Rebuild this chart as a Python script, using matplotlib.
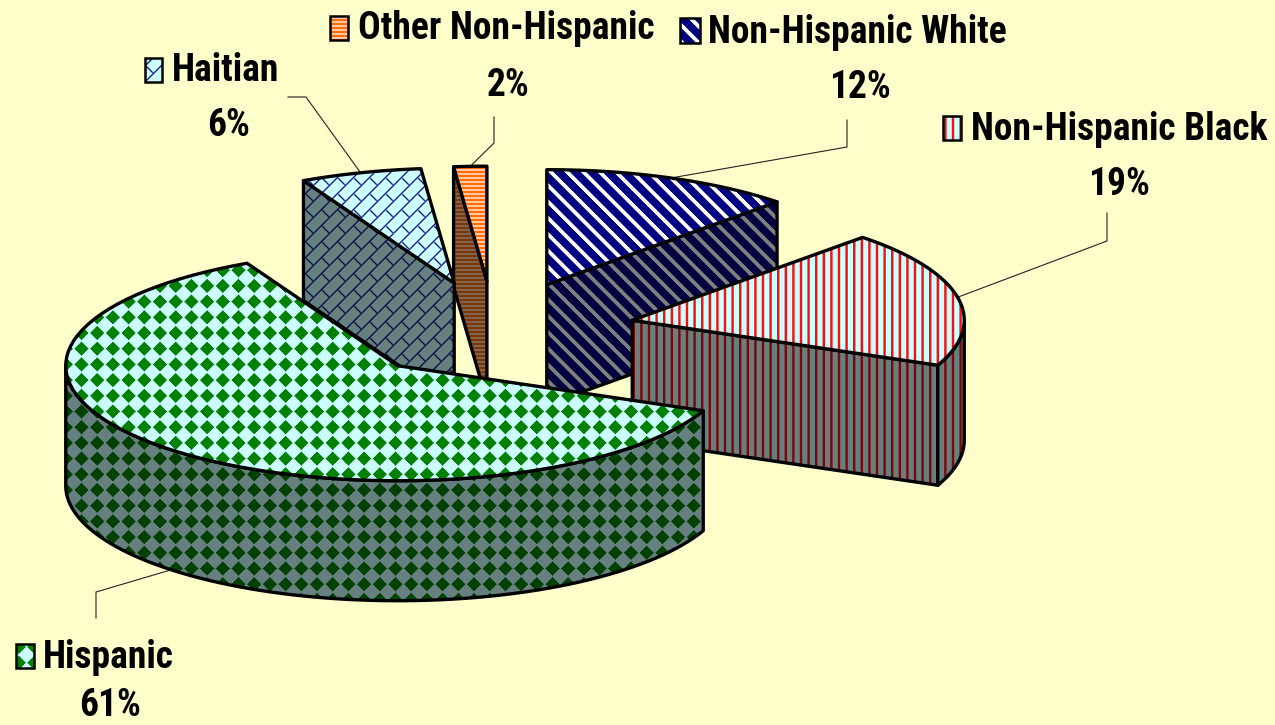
import numpy as np
import matplotlib
matplotlib.use("Agg")
import matplotlib.pyplot as plt
from matplotlib.patches import Polygon, Rectangle

# ---- data ----
categories = ["Non-Hispanic White", "Non-Hispanic Black", "Hispanic", "Haitian", "Other Non-Hispanic"]
shares = [12.2, 19.2, 61.1, 5.9, 1.6]   # slice sizes; labels show them rounded

# ---- layout / style ----
W, H = 1275, 725
BG = "#FFFFCC"
CX, CY, RX, RY, DEPTH = 494, 330, 332, 115, 120
EXPLODE = 0.425
FONT = ["Roboto Condensed", "Roboto", "Liberation Sans"]
FS = 27
label_pos = {  # name left x, name centre y, percent centre x, percent centre y, key box
    "Non-Hispanic White": (708, 32, 860, 87, (680, 18, 20, 25)),
    "Non-Hispanic Black": (971, 129, 1119, 184, (943, 116, 18, 24)),
    "Hispanic": (43, 657, 110, 705, (16, 644, 18, 24)),
    "Haitian": (172, 70, 229, 125, (145, 58, 17, 24)),
    "Other Non-Hispanic": (358, 28, 508, 85, (330, 16, 18, 24)),
}
elbows = {
    "Non-Hispanic White": [(847, 120), (847, 147)],
    "Non-Hispanic Black": [(1107, 213), (1107, 241)],
    "Hispanic": [(96, 618), (96, 592)],
    "Haitian": [(288, 97), (306, 97)],
    "Other Non-Hispanic": [(494, 117), (494, 143)],
}

yy, xx = np.mgrid[0:H, 0:W] + 0.5


def soft(d):
    return np.clip(d + 0.5, 0, 1)


def wrap(a, p):
    return np.abs((a / p + 0.5) % 1 - 0.5) * p


def m_diamonds():
    P = 15.7
    d = wrap(xx - 160, P) + wrap(yy - 333, P)
    return soft(7.1 - d)


def m_vstripes():
    return soft(1.2 - wrap(xx - 3.0, 7.6)) * 0.95


def m_dstripes():
    return soft(2.7 - wrap(xx - yy - 4, 16.3))


def m_bricks():
    P = 16.0
    s = xx + yy - 3
    k = np.floor(s / P)
    d1 = wrap(s, P)
    d2 = wrap(xx - yy + k * 16, 32)
    return np.maximum(soft(0.95 - d1), soft(0.95 - d2)) * 0.9


def m_hstripes():
    return soft(1.2 - wrap(yy, 4.0)) * 0.9 + 0.05


def rgb(h):
    return np.array(matplotlib.colors.to_rgb(h))


styles = {
    "Non-Hispanic White": (m_dstripes, "#000080", "#FFFFFF"),
    "Non-Hispanic Black": (m_vstripes, "#CCFFFF", "#FF0000"),
    "Hispanic": (m_diamonds, "#CCFFFF", "#008000"),
    "Haitian": (m_bricks, "#CCFFFF", "#000080"),
    "Other Non-Hispanic": (m_hstripes, "#FFE6CC", "#FF6600"),
}
images = {}
for name, (fn, bg, fg) in styles.items():
    m = fn()[..., None]
    top = rgb(bg) * (1 - m) + rgb(fg) * m
    images[name] = (top, top * 0.5)

fig = plt.figure(figsize=(W / 100, H / 100), dpi=100, facecolor=BG)
ax = fig.add_axes([0, 0, 1, 1])
ax.set_axis_off()


def textured(pts, img, z, lw=2.4):
    face = Polygon(pts, closed=True, facecolor="none", edgecolor="none", zorder=z)
    ax.add_patch(face)
    im = ax.imshow(img, extent=(0, W, H, 0), origin="upper", aspect="auto",
                   interpolation="nearest", zorder=z)
    im.set_clip_path(face)
    ax.add_patch(Polygon(pts, closed=True, fill=False, edgecolor="black", lw=lw,
                         joinstyle="round", zorder=z + 0.5))


def on_rim(ax0, ay0, t):
    t = np.radians(t)
    return ax0 + RX * np.sin(t), ay0 - RY * np.cos(t)


total = sum(shares)
wedges = []
start = 0.0
for name, share in zip(categories, shares):
    end = start + 360.0 * share / total
    wedges.append((name, start, end))
    start = end


def mid_of(w):
    return np.radians((w[1] + w[2]) / 2)


z = 2
for w in sorted(wedges, key=lambda w: -np.cos(mid_of(w))):
    name, t0, t1 = w
    mid = mid_of(w)
    ax0 = CX + EXPLODE * RX * np.sin(mid)
    ay0 = CY - EXPLODE * RY * np.cos(mid)
    top_img, side_img = images[name]
    faces = []
    if np.sin(np.radians(t0)) < -1e-6:
        faces.append(t0)
    if np.sin(np.radians(t1)) > 1e-6:
        faces.append(t1)
    for t in faces:
        px, py = on_rim(ax0, ay0, t)
        textured([(ax0, ay0), (px, py), (px, py + DEPTH), (ax0, ay0 + DEPTH)], side_img, z)
        z += 1
    a0, a1 = max(t0, 90.0), min(t1, 270.0)
    if a1 > a0:
        ts = np.linspace(a0, a1, 80)
        x, y = on_rim(ax0, ay0, ts)
        pts = list(zip(x, y)) + list(zip(x[::-1], y[::-1] + DEPTH))
        textured(pts, side_img, z)
        z += 1
    ts = np.linspace(t0, t1, 80)
    x, y = on_rim(ax0, ay0, ts)
    textured([(ax0, ay0)] + list(zip(x, y)), top_img, z)
    z += 1

    # leader line from the rim at the slice's middle angle
    lx, ly = on_rim(ax0, ay0, np.degrees(mid))
    if np.cos(mid) < 0:
        ly += DEPTH
    ex = elbows[name]
    ax.plot([ex[0][0], ex[1][0], lx], [ex[0][1], ex[1][1], ly], color="#222222", lw=0.8, zorder=1)

# labels and legend keys
for name, share in zip(categories, shares):
    tx, ty, px, py, (kx, ky, kw, kh) = label_pos[name]
    ax.text(tx, ty, name, family=FONT, fontsize=FS, fontweight="bold", va="center", ha="left",
            color="black", zorder=50)
    ax.text(px, py, f"{round(share)}%", family=FONT, fontsize=FS, fontweight="bold", va="center", ha="center",
            color="black", zorder=50)
    box = Rectangle((kx, ky), kw, kh, facecolor="none", edgecolor="black", lw=1.8, zorder=51)
    ax.add_patch(box)
    im = ax.imshow(images[name][0], extent=(0, W, H, 0), origin="upper", aspect="auto",
                   interpolation="nearest", zorder=50)
    im.set_clip_path(box)

ax.set_xlim(0, W)
ax.set_ylim(H, 0)
fig.savefig("out.png", dpi=100, facecolor=BG)
